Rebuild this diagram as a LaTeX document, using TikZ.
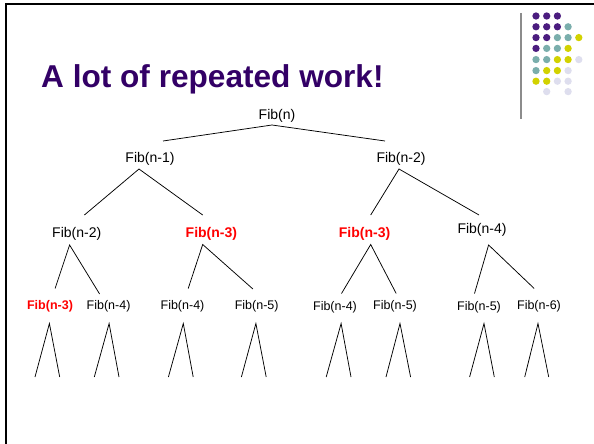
\documentclass[tikz,border=0pt]{standalone}
\usepackage{fontspec}
\setmainfont{Liberation Sans}
\definecolor{titlepurple}{HTML}{330066}
\definecolor{dotP}{HTML}{4B1C7F}
\definecolor{dotT}{HTML}{7AAEAC}
\definecolor{dotY}{HTML}{D2D200}
\definecolor{dotL}{HTML}{DEDEEE}
\definecolor{fibred}{HTML}{FF0000}
\tikzset{
  fib/.style={inner sep=0pt, font=\fontsize{14}{16}\selectfont},
  fibsmall/.style={inner sep=0pt, font=\fontsize{12.5}{14}\selectfont},
  hot/.style={text=fibred, font=\bfseries\fontsize{14}{16}\selectfont},
  hotsmall/.style={text=fibred, font=\bfseries\fontsize{12.5}{14}\selectfont},
  edge/.style={draw=black, line width=0.75pt},
  dot/.style={circle, inner sep=0pt, minimum size=7.3pt},
}
\begin{document}
\begin{tikzpicture}[x=1pt,y=-1pt]
\useasboundingbox (0,0) rectangle (594,444);
\fill[white] (0,0) rectangle (594,444);
% slide frame
\draw[line width=2pt] (6,446) -- (6,4.2) -- (596,4.2);
% decoration
\draw[line width=1.3pt, color=black!45] (521,13) -- (521,119);
\foreach \r/\y/\list in {
  0/16/{P,P,P},
  1/26.8/{P,P,P,T},
  2/37.6/{P,P,T,T,Y},
  3/48.4/{P,T,T,Y},
  4/59.6/{T,T,Y,Y,L},
  5/70.6/{T,Y,Y,L},
  6/81.2/{Y,Y,L,L}}{
  \foreach \c [count=\i from 0] in \list {
    \node[dot, fill=dot\c] (d\r-\i) at (536+10.7*\i,\y) {};
  }
}
\node[dot, fill=dotL] (d7-1) at (546.7,91.6) {};
\node[dot, fill=dotL] (d7-3) at (568.1,91.6) {};
% title
\node[anchor=base west, inner sep=0pt, text=titlepurple,
      font=\bfseries\fontsize{31.6}{36}\selectfont] (title) at (41,87) {A lot of repeated work!};
% level 1
\node[fib] (n0) at (277,116) {Fib(n)};
% level 2
\node[fib] (n1) at (150,159) {Fib(n-1)};
\node[fib] (n2) at (401,159) {Fib(n-2)};
% level 3
\node[fib] (n11) at (76.7,234) {Fib(n-2)};
\node[fib,hot] (n12) at (211.4,234) {Fib(n-3)};
\node[fib,hot] (n21) at (364.6,234) {Fib(n-3)};
\node[fib] (n22) at (482,229.5) {Fib(n-4)};
% level 4
\node[fibsmall,hotsmall] (n111) at (50,306.5) {Fib(n-3)};
\node[fibsmall] (n112) at (108.6,306) {Fib(n-4)};
\node[fibsmall] (n121) at (182.5,306) {Fib(n-4)};
\node[fibsmall] (n122) at (256.7,306) {Fib(n-5)};
\node[fibsmall] (n211) at (335,307.5) {Fib(n-4)};
\node[fibsmall] (n212) at (395,306) {Fib(n-5)};
\node[fibsmall] (n221) at (479,307.5) {Fib(n-5)};
\node[fibsmall] (n222) at (539,306) {Fib(n-6)};
% connector end points
\coordinate (a0) at (272,125);
\coordinate (e1) at (163,141);
\coordinate (e2) at (385,141);
\coordinate (a1) at (139,169);
\coordinate (e11) at (84.4,215);
\coordinate (e12) at (202.7,215);
\coordinate (a2) at (399,169);
\coordinate (e21) at (370.7,215);
\coordinate (e22) at (479,215);
\coordinate (a11) at (69.6,245);
\coordinate (e111) at (55.1,288.5);
\coordinate (e112) at (99.6,294);
\coordinate (a12) at (202.7,244.5);
\coordinate (e121) at (188.2,288.5);
\coordinate (e122) at (252.9,289);
\coordinate (a21) at (370.7,244.5);
\coordinate (e211) at (341.5,293.5);
\coordinate (e212) at (396.2,293.5);
\coordinate (a22) at (488.6,245);
\coordinate (e221) at (474.5,293.5);
\coordinate (e222) at (534.2,288.5);
\draw[edge] (e1) -- (a0) -- (e2);
\draw[edge] (e11) -- (a1) -- (e12);
\draw[edge] (e21) -- (a2) -- (e22);
\draw[edge] (e111) -- (a11) -- (e112);
\draw[edge] (e121) -- (a12) -- (e122);
\draw[edge] (e211) -- (a21) -- (e212);
\draw[edge] (e221) -- (a22) -- (e222);
% leaf triangles
\foreach \name/\ax/\lx/\rx in {
  n111/49.4/35/59.7, n112/109.1/94.3/119,
  n121/183.3/168.4/193.2, n122/255.9/241.4/266.2,
  n211/341.1/326.2/351, n212/400/386/410.6,
  n221/484/469.6/494.3, n222/538/524.7/548.7}{
  \coordinate (t-\name) at (\ax,323.5);
  \coordinate (tl-\name) at (\lx,377);
  \coordinate (tr-\name) at (\rx,377);
  \draw[edge] (tl-\name) -- (t-\name) -- (tr-\name);
}
\end{tikzpicture}
\end{document}
